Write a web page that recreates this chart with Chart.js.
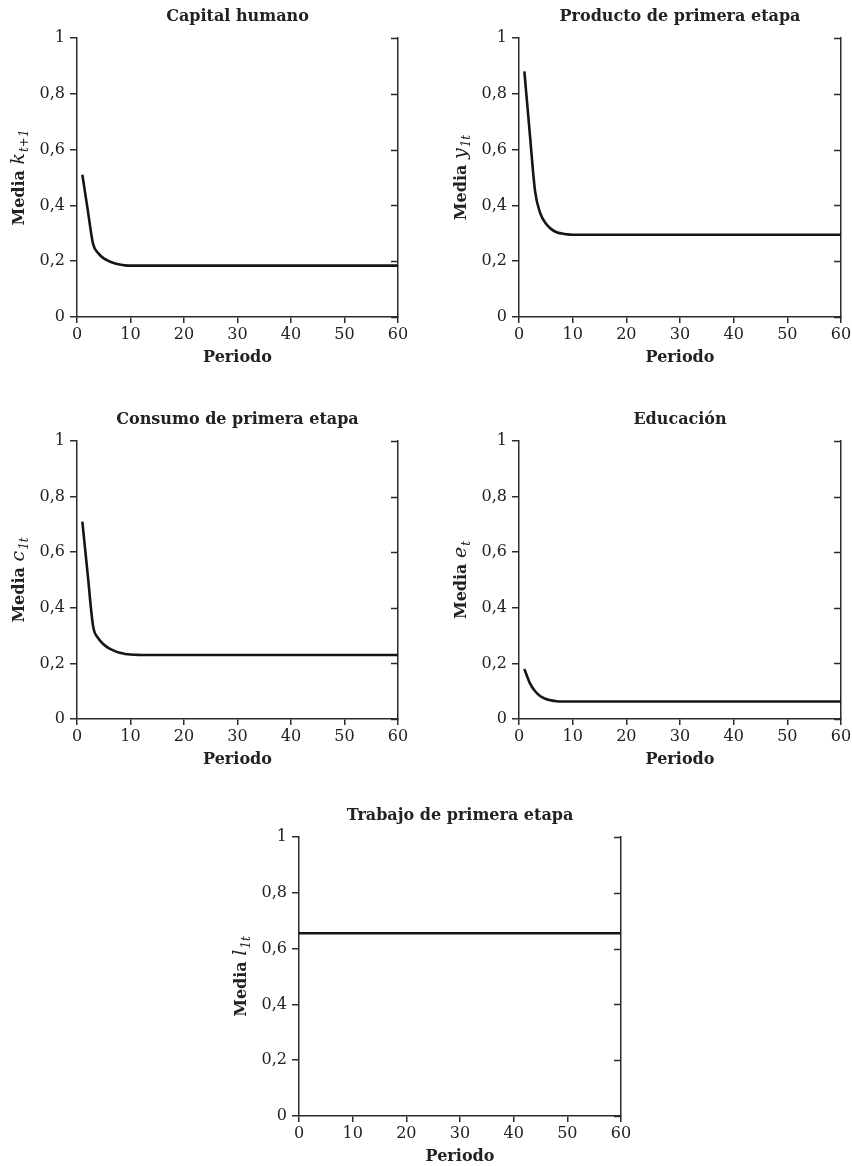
<!DOCTYPE html>
<html>
<head>
<meta charset="utf-8">
<script src="https://cdn.jsdelivr.net/npm/chart.js@4.4.1/dist/chart.umd.min.js"></script>
<style>
  html, body { margin: 0; padding: 0; background: #fff; }
  body { width: 852px; height: 1166px; position: relative; overflow: hidden; }
  canvas { position: absolute; }
</style>
</head>
<body>
<canvas id="c1"></canvas>
<canvas id="c2"></canvas>
<canvas id="c3"></canvas>
<canvas id="c4"></canvas>
<canvas id="c5"></canvas>
<script>
// periods used by the first four panels
const periods = [1, 2, 3, 4, 5, 6, 7, 8, 9, 10, 11, 12, 15, 20, 30, 40, 50, 60];
// values
const capitalHumano = [0.51, 0.385, 0.262, 0.228, 0.21, 0.2, 0.193, 0.188, 0.185, 0.184, 0.184, 0.184, 0.184, 0.184, 0.184, 0.184, 0.184, 0.184];
const productoPrimera = [0.88, 0.66, 0.45, 0.37, 0.335, 0.315, 0.304, 0.299, 0.296, 0.295, 0.295, 0.295, 0.295, 0.295, 0.295, 0.295, 0.295, 0.295];
const consumoPrimera = [0.71, 0.52, 0.335, 0.29, 0.268, 0.254, 0.245, 0.238, 0.234, 0.232, 0.231, 0.23, 0.23, 0.23, 0.23, 0.23, 0.23, 0.23];
const educacion = [0.18, 0.13, 0.1, 0.082, 0.072, 0.067, 0.064, 0.063, 0.063, 0.063, 0.063, 0.063, 0.063, 0.063, 0.063, 0.063, 0.063, 0.063];
// last panel is flat over the whole range
const periodsTrabajo = [0, 10, 20, 30, 40, 50, 60];
const trabajoPrimera = [0.655, 0.655, 0.655, 0.655, 0.655, 0.655, 0.655];

const xTicks = [0, 10, 20, 30, 40, 50, 60];
const yTicks = [0, 0.2, 0.4, 0.6, 0.8, 1];

const axisColor = '#2b2b2b';
const textColor = '#222';
const serif = '"DejaVu Serif", "Liberation Serif", serif';

// title, "Periodo", the rotated y label and the inward ticks on the right axis
const panelDecor = {
  id: 'panelDecor',
  afterDraw(chart, args, opts) {
    const { ctx, chartArea: a, scales: { y } } = chart;
    ctx.save();
    ctx.strokeStyle = axisColor;
    ctx.lineWidth = 1.5;
    y.ticks.forEach(t => {
      const py = Math.round(y.getPixelForValue(t.value)) + 0.5;
      ctx.beginPath();
      ctx.moveTo(a.right - 7, py);
      ctx.lineTo(a.right, py);
      ctx.stroke();
    });

    const cx = (a.left + a.right) / 2;
    ctx.fillStyle = textColor;
    ctx.textAlign = 'center';
    ctx.textBaseline = 'middle';
    ctx.font = 'bold 16px ' + serif;
    ctx.fillText(opts.title, cx, a.top - 21);
    ctx.fillText('Periodo', cx, a.bottom + 41);

    // y label: "Media" + italic variable + subscript
    const bold = 'bold 16px ' + serif;
    const ital = 'italic 19px ' + serif;
    const subf = 'italic 12px ' + serif;
    ctx.font = bold; const w1 = ctx.measureText('Media ').width;
    ctx.font = ital; const w2 = ctx.measureText(opts.varName).width;
    ctx.font = subf; const w3 = ctx.measureText(opts.sub).width;
    const total = w1 + w2 + w3 + 1;
    ctx.translate(a.left - 59, (a.top + a.bottom) / 2);
    ctx.rotate(-Math.PI / 2);
    ctx.textAlign = 'left';
    ctx.textBaseline = 'alphabetic';
    let x = -total / 2;
    ctx.font = bold; ctx.fillText('Media ', x, 6); x += w1;
    ctx.font = ital; ctx.fillText(opts.varName, x, 6); x += w2 + 1;
    ctx.font = subf; ctx.fillText(opts.sub, x, 10);
    ctx.restore();
  }
};

function fmt(v) {
  if (Math.abs(v) < 1e-9) return '0';
  if (Math.abs(v - 1) < 1e-9) return '1';
  return v.toFixed(1).replace('.', ',');
}

function makeChart(id, box, title, varName, sub, xs, ys) {
  const cv = document.getElementById(id);
  cv.width = box.w; cv.height = box.h;
  cv.style.left = box.left + 'px';
  cv.style.top = box.top + 'px';
  const tickFont = { family: serif, size: 16 };
  return new Chart(cv.getContext('2d'), {
    type: 'line',
    data: {
      datasets: [{
        data: xs.map((x, i) => ({ x: x, y: ys[i] })),
        borderColor: '#151515',
        borderWidth: 2.6,
        pointRadius: 0,
        cubicInterpolationMode: 'monotone',
        fill: false
      }]
    },
    options: {
      responsive: false,
      animation: false,
      devicePixelRatio: 1,
      layout: { padding: { top: 36, left: 0, right: 0, bottom: 0 } },
      plugins: {
        legend: { display: false },
        tooltip: { enabled: false },
        panelDecor: { title: title, varName: varName, sub: sub }
      },
      scales: {
        x: {
          type: 'linear', min: 0, max: 60,
          afterBuildTicks: s => { s.ticks = xTicks.map(v => ({ value: v })); },
          ticks: { font: tickFont, color: textColor, padding: 2, maxRotation: 0 },
          grid: { drawOnChartArea: false, tickLength: 6, color: axisColor, lineWidth: 1.5 },
          border: { color: axisColor, width: 1.5 },
          afterFit: s => { s.height = 48; }
        },
        y: {
          type: 'linear', min: 0, max: 1,
          afterBuildTicks: s => { s.ticks = yTicks.map(v => ({ value: v })); },
          ticks: { font: tickFont, color: textColor, padding: 5, callback: v => fmt(v) },
          grid: { drawOnChartArea: false, tickLength: 7, color: axisColor, lineWidth: 1.5 },
          border: { color: axisColor, width: 1.5 },
          afterFit: s => { s.width = 77; }
        },
        y2: {
          type: 'linear', position: 'right', min: 0, max: 1,
          ticks: { display: false },
          grid: { display: false },
          border: { display: true, color: axisColor, width: 1.5 },
          afterFit: s => { s.width = 13; }
        }
      }
    },
    plugins: [panelDecor]
  });
}

makeChart('c1', { left: 0, top: 2, w: 411, h: 363 }, 'Capital humano', 'k', 't+1', periods, capitalHumano);
makeChart('c2', { left: 442, top: 2, w: 412, h: 363 }, 'Producto de primera etapa', 'y', '1t', periods, productoPrimera);
makeChart('c3', { left: 0, top: 405, w: 411, h: 362 }, 'Consumo de primera etapa', 'c', '1t', periods, consumoPrimera);
makeChart('c4', { left: 442, top: 405, w: 412, h: 362 }, 'Educación', 'e', 't', periods, educacion);
makeChart('c5', { left: 222, top: 801, w: 412, h: 363 }, 'Trabajo de primera etapa', 'l', '1t', periodsTrabajo, trabajoPrimera);
</script>
</body>
</html>
